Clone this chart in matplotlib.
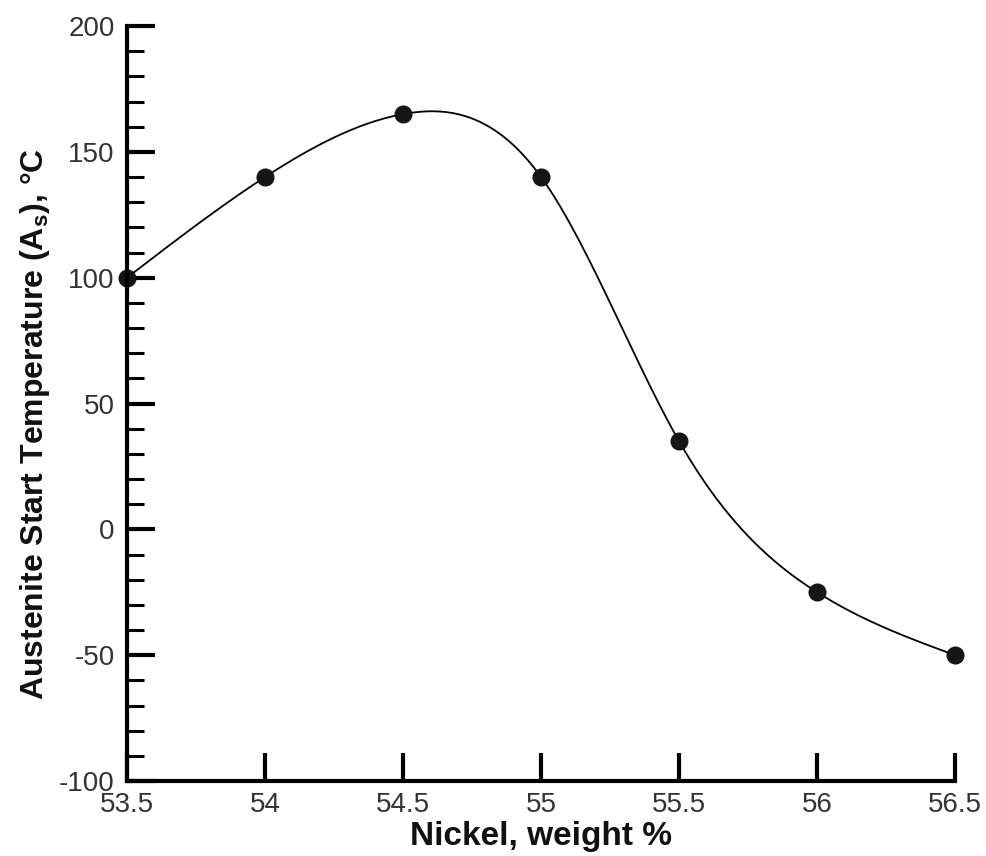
import numpy as np
import matplotlib
matplotlib.use("Agg")
import matplotlib.pyplot as plt
from matplotlib.ticker import MultipleLocator

nickel = [53.5, 54.0, 54.5, 55.0, 55.5, 56.0, 56.5]
as_temp = [100, 140, 165, 140, 35, -25, -50]
x_ticks = [53.5, 54, 54.5, 55, 55.5, 56, 56.5]
x_tick_labels = ["53.5", "54", "54.5", "55", "55.5", "56", "56.5"]
y_ticks = [-100, -50, 0, 50, 100, 150, 200]


def natural_spline(x, y, xs):
    x = np.asarray(x, float); y = np.asarray(y, float)
    n = len(x)
    h = np.diff(x)
    A = np.zeros((n, n)); b = np.zeros(n)
    A[0, 0] = 1; A[-1, -1] = 1
    for i in range(1, n - 1):
        A[i, i - 1] = h[i - 1]
        A[i, i] = 2 * (h[i - 1] + h[i])
        A[i, i + 1] = h[i]
        b[i] = 6 * ((y[i + 1] - y[i]) / h[i] - (y[i] - y[i - 1]) / h[i - 1])
    M = np.linalg.solve(A, b)
    out = np.empty_like(xs)
    for k, xv in enumerate(xs):
        i = min(max(np.searchsorted(x, xv) - 1, 0), n - 2)
        t1 = x[i + 1] - xv; t0 = xv - x[i]
        out[k] = (M[i] * t1**3 + M[i + 1] * t0**3) / (6 * h[i]) \
            + (y[i] / h[i] - M[i] * h[i] / 6) * t1 \
            + (y[i + 1] / h[i] - M[i + 1] * h[i] / 6) * t0
    return out


plt.rcParams['font.family'] = ['Liberation Sans', 'DejaVu Sans']
plt.rcParams['axes.unicode_minus'] = False
fig = plt.figure(figsize=(9.87, 8.56), dpi=100)
ax = fig.add_axes([0.1287, 0.0876, 0.839, 0.882])

xs = np.linspace(nickel[0], nickel[-1], 400)
ax.plot(xs, natural_spline(nickel, as_temp, xs), color='black', lw=1.3)
ax.plot(nickel, as_temp, 'o', color='#151515', ms=12, clip_on=False)

ax.set_xlim(53.5, 56.5)
ax.set_ylim(-100, 200)
ax.set_xticks(x_ticks)
ax.set_xticklabels(x_tick_labels)
ax.set_yticks(y_ticks)
ax.yaxis.set_minor_locator(MultipleLocator(10))

for s in ['top', 'right']:
    ax.spines[s].set_visible(False)
for s in ['left', 'bottom']:
    ax.spines[s].set_linewidth(3)

ax.tick_params(axis='both', which='major', direction='in', length=20, width=3,
               labelsize=20, labelcolor='#333333')
ax.tick_params(axis='y', which='minor', direction='in', length=12, width=2.2)
ax.tick_params(axis='x', which='major', pad=8)
ax.tick_params(axis='y', which='major', pad=9)

ax.set_xlabel('Nickel, weight %', fontsize=24, fontweight='bold', labelpad=2,
              color='#111111')
ax.set_ylabel('Austenite Start Temperature (A$_\\mathregular{s}$), °C', fontsize=23,
              fontweight='bold', color='#111111')
ax.yaxis.set_label_coords(-0.09, 0.473)

fig.savefig('out.png', dpi=100)
